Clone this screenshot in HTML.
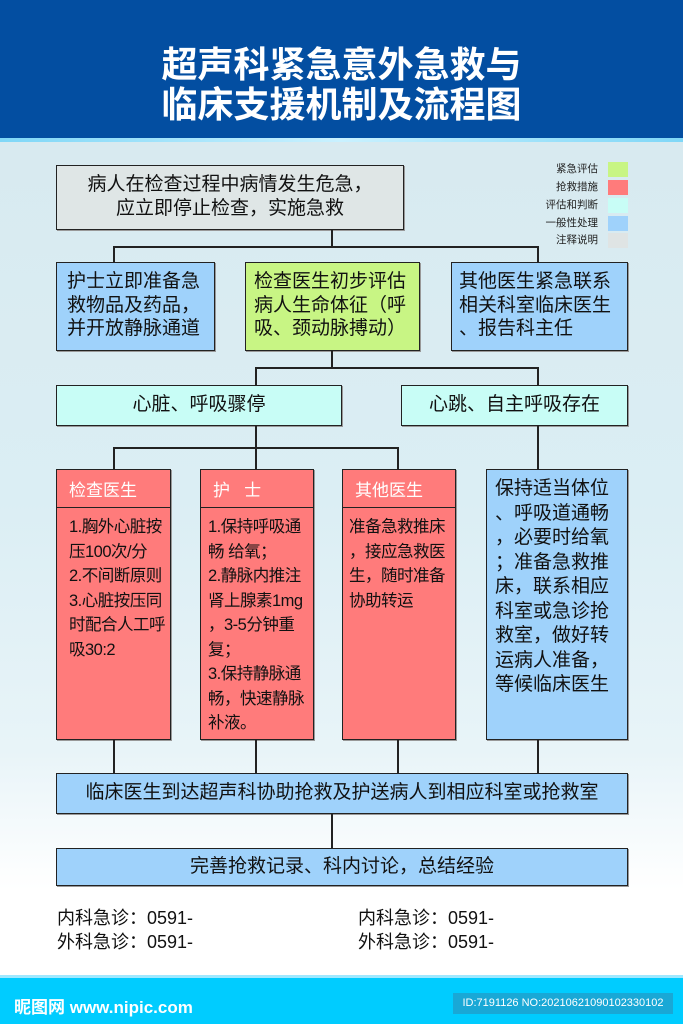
<!DOCTYPE html>
<html><head><meta charset="utf-8"><style>
*{margin:0;padding:0;box-sizing:border-box}
body{width:683px;height:1024px;position:relative;overflow:hidden;font-family:"Liberation Sans","Noto Sans CJK SC",sans-serif;background:linear-gradient(#d8ecf2 0px,#d8eaf0 140px,#dbeef4 500px,#e8f4f8 750px,#ffffff 890px,#fff 1024px)}
.a{position:absolute}
.b{position:absolute;border:1.5px solid #222;box-shadow:1px 1px 0 #999}
.l{position:absolute;background:#222}
.t{color:#111;font-size:19px;line-height:23.5px;white-space:nowrap}
.red{background:#ff7b7b}
.blue{background:#9fd2fb}
.cy{background:#c8fdf6}
.hd{color:#fff;font-size:17px;padding:6px 0 0 12px;height:38px;border-bottom:1.5px solid #222}
.bd{font-size:16.5px;line-height:24.5px;color:#111;padding:7px 0 0 12px;white-space:nowrap;letter-spacing:-0.5px}
.lg{font-size:10.5px;color:#222;text-align:right;width:60px;left:538px;line-height:15px}
.sw{left:608px;width:20px;height:15px}
</style></head><body>
<div class="a" style="left:0;top:0;width:683px;height:138px;background:#034ea1"></div>
<div class="a" style="left:0;top:138px;width:683px;height:4px;background:linear-gradient(90deg,#7fd7f7,#c9f1ff,#7fd7f7)"></div>
<div class="a" style="left:0;top:45px;width:683px;text-align:center;color:#fff;font-weight:bold;font-size:36px;line-height:40px;letter-spacing:0px">超声科紧急意外急救与<br>临床支援机制及流程图</div>

<div class="b" style="left:56px;top:165px;width:348px;height:65px;background:#dfe6e6"></div>
<div class="a t" style="left:56px;top:173px;width:348px;text-align:center">病人在检查过程中病情发生危急，<br>应立即停止检查，实施急救</div>

<div class="a lg" style="top:162px">紧急评估</div><div class="a sw" style="top:162px;background:#c8f584"></div>
<div class="a lg" style="top:180px">抢救措施</div><div class="a sw" style="top:180px;background:#ff7b7b"></div>
<div class="a lg" style="top:198px">评估和判断</div><div class="a sw" style="top:198px;background:#c8fdf6"></div>
<div class="a lg" style="top:216px">一般性处理</div><div class="a sw" style="top:216px;background:#9fd2fb"></div>
<div class="a lg" style="top:233px">注释说明</div><div class="a sw" style="top:233px;background:#dfe4e4"></div>

<div class="l" style="left:331px;top:230px;width:1.5px;height:17px"></div>
<div class="l" style="left:113px;top:246px;width:426px;height:1.5px"></div>
<div class="l" style="left:113px;top:246px;width:1.5px;height:17px"></div>
<div class="l" style="left:537px;top:246px;width:1.5px;height:17px"></div>

<div class="b blue" style="left:56px;top:262px;width:159px;height:89px"></div>
<div class="a t" style="left:67px;top:270px">护士立即准备急<br>救物品及药品，<br>并开放静脉通道</div>
<div class="b" style="left:245px;top:262px;width:175px;height:89px;background:#c8f584"></div>
<div class="a t" style="left:254px;top:270px">检查医生初步评估<br>病人生命体征（呼<br>吸、颈动脉搏动）</div>
<div class="b blue" style="left:451px;top:262px;width:177px;height:89px"></div>
<div class="a t" style="left:459px;top:270px">其他医生紧急联系<br>相关科室临床医生<br>、报告科主任</div>

<div class="l" style="left:331px;top:351px;width:1.5px;height:17px"></div>
<div class="l" style="left:255px;top:367px;width:284px;height:1.5px"></div>
<div class="l" style="left:255px;top:367px;width:1.5px;height:19px"></div>
<div class="l" style="left:537px;top:367px;width:1.5px;height:19px"></div>

<div class="b cy" style="left:56px;top:385px;width:286px;height:41px"></div>
<div class="a t" style="left:56px;top:393px;width:286px;text-align:center">心脏、呼吸骤停</div>
<div class="b cy" style="left:401px;top:385px;width:227px;height:41px"></div>
<div class="a t" style="left:401px;top:393px;width:227px;text-align:center">心跳、自主呼吸存在</div>

<div class="l" style="left:255px;top:426px;width:1.5px;height:22px"></div>
<div class="l" style="left:113px;top:447px;width:286px;height:1.5px"></div>
<div class="l" style="left:113px;top:447px;width:1.5px;height:23px"></div>
<div class="l" style="left:255px;top:447px;width:1.5px;height:23px"></div>
<div class="l" style="left:397px;top:447px;width:1.5px;height:23px"></div>
<div class="l" style="left:537px;top:426px;width:1.5px;height:44px"></div>

<div class="b red" style="left:56px;top:469px;width:115px;height:271px;overflow:hidden"><div class="hd">检查医生</div><div class="bd">1.胸外心脏按<br>压100次/分<br>2.不间断原则<br>3.心脏按压同<br>时配合人工呼<br>吸30:2</div></div>
<div class="b red" style="left:200px;top:469px;width:114px;height:271px;overflow:hidden"><div class="hd">护&nbsp;&nbsp;&nbsp;士</div><div class="bd" style="padding-left:7px">1.保持呼吸通<br>畅 给氧；<br>2.静脉内推注<br>肾上腺素1mg<br>，3-5分钟重<br>复；<br>3.保持静脉通<br>畅，快速静脉<br>补液。</div></div>
<div class="b red" style="left:342px;top:469px;width:114px;height:271px;overflow:hidden"><div class="hd">其他医生</div><div class="bd" style="padding-left:6px">准备急救推床<br>，接应急救医<br>生，随时准备<br>协助转运</div></div>
<div class="b blue" style="left:486px;top:469px;width:142px;height:271px"><div class="t" style="padding:7px 0 0 8px;line-height:24.5px;font-size:19px">保持适当体位<br>、呼吸道通畅<br>，必要时给氧<br>；准备急救推<br>床，联系相应<br>科室或急诊抢<br>救室，做好转<br>运病人准备，<br>等候临床医生</div></div>

<div class="l" style="left:113px;top:740px;width:1.5px;height:34px"></div>
<div class="l" style="left:255px;top:740px;width:1.5px;height:34px"></div>
<div class="l" style="left:397px;top:740px;width:1.5px;height:34px"></div>
<div class="l" style="left:537px;top:740px;width:1.5px;height:34px"></div>

<div class="b blue" style="left:56px;top:773px;width:572px;height:41px"></div>
<div class="a t" style="left:56px;top:781px;width:572px;text-align:center">临床医生到达超声科协助抢救及护送病人到相应科室或抢救室</div>
<div class="l" style="left:331px;top:814px;width:1.5px;height:35px"></div>
<div class="b blue" style="left:56px;top:848px;width:572px;height:38px"></div>
<div class="a t" style="left:56px;top:855px;width:572px;text-align:center">完善抢救记录、科内讨论，总结经验</div>

<div class="a" style="left:57px;top:906px;font-size:18px;line-height:24px;color:#111">内科急诊：0591-<br>外科急诊：0591-</div>
<div class="a" style="left:358px;top:906px;font-size:18px;line-height:24px;color:#111">内科急诊：0591-<br>外科急诊：0591-</div>

<div class="a" style="left:0;top:977px;width:683px;height:47px;background:#00ccff"></div>
<div class="a" style="left:0;top:975px;width:683px;height:3px;background:#9fe8ff"></div>
<div class="a" style="left:14px;top:993px;color:#fff;font-size:17px;font-weight:bold">昵图网 www.nipic.com</div>
<div class="a" style="left:453px;top:993px;width:220px;height:21px;background:#19a8d6;color:#fff;font-size:11px;line-height:21px;text-align:center">ID:7191126 NO:20210621090102330102</div>
</body></html>
